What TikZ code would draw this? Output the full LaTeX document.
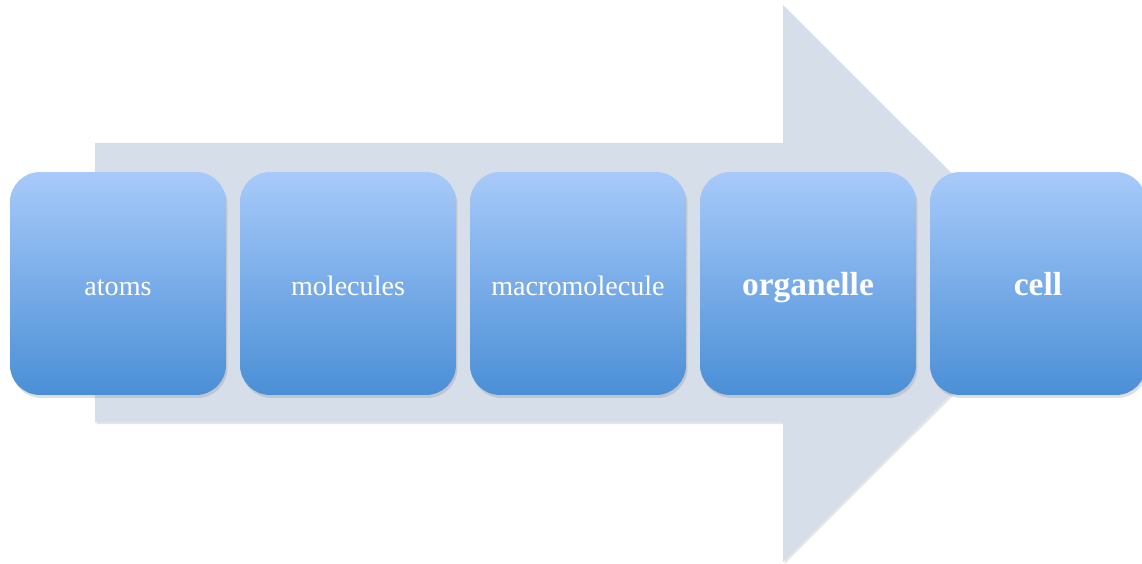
\documentclass[tikz,border=0pt]{standalone}
\usepackage{fontspec}
\setmainfont{Liberation Serif}
\usetikzlibrary{shadows}
\definecolor{arrowgray}{HTML}{D6DEEA}
\definecolor{boxtop}{HTML}{A8CAFA}
\definecolor{boxbot}{HTML}{4A8FD6}
\tikzset{level/.style={rectangle,rounded corners=0.6cm,minimum width=4.32cm,minimum height=4.46cm,
    top color=boxtop,bottom color=boxbot,text=white,font=\fontsize{16}{19}\selectfont,
    text height=0.5cm,text depth=0pt,
    drop shadow={shadow xshift=0.03cm,shadow yshift=-0.06cm,opacity=0.25}},
  levelbold/.style={level,font=\fontsize{19}{23}\selectfont\bfseries}}
\begin{document}
\begin{tikzpicture}[x=0.02cm,y=-0.02cm,line width=0.6pt]
		\useasboundingbox (0,0) rectangle (1142,564);
		\clip (0,0) rectangle (1142,564);
		% big arrow behind the levels
		\fill[arrowgray,drop shadow={shadow xshift=0.03cm,shadow yshift=-0.04cm,opacity=0.2}] (95,143) -- (783,143) -- (783,5) -- (1062,283.5) -- (783,562) -- (783,422) -- (95,422) -- cycle;
		\foreach \x/\t/\n in {118/atoms/atoms,348/molecules/molecules,578/macromolecule/macro}
		\node[level] (\n) at (\x,283.5) {\t};
		\node[levelbold] (organelle) at (808,283.5) {organelle};
		\node[levelbold] (cell) at (1038,283.5) {cell};
\end{tikzpicture}
\end{document}
